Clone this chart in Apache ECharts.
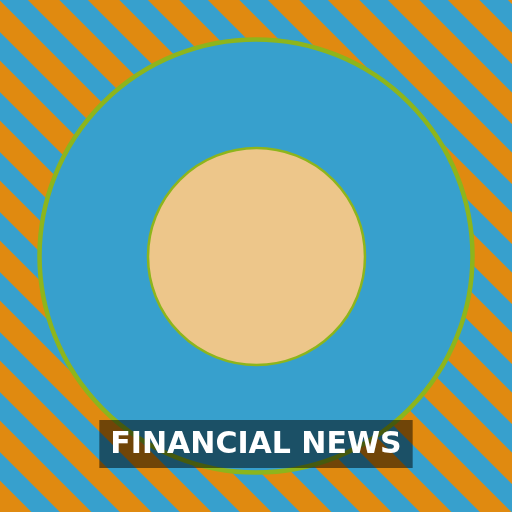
<!DOCTYPE html>
<html>
<head>
<meta charset="utf-8">
<script src="https://cdn.jsdelivr.net/npm/echarts@6/dist/echarts.min.js"></script>
<style>
	html, body { margin: 0; padding: 0; }
	#main { width: 512px; height: 512px; }
</style>
</head>
<body>
<div id="main"></div>
<script>
// 数据
var titleText = 'FINANCIAL NEWS'
var outerNames = ['outer']
var outerValues = [1]
var innerNames = ['inner']
var innerValues = [1]

// 颜色
var blue = [55, 160, 205]
var orange = [224, 138, 16]
var tan = '#edc68a'
var green = '#8db51c'

// 斜条纹背景 (逐像素, 4x4 超采样)
function stripePattern() {
	var size = 60
	var c = document.createElement('canvas')
	c.width = size
	c.height = size
	var ctx = c.getContext('2d')
	var img = ctx.createImageData(size, size)
	for (var y = 0; y < size; y++) {
		for (var x = 0; x < size; x++) {
			var hit = 0
			for (var sy = 0; sy < 4; sy++) {
				for (var sx = 0; sx < 4; sx++) {
					var d = (x + (sx + 0.5) / 4) - (y + (sy + 0.5) / 4)
					d = ((d % size) + size) % size
					if (d >= 28 && d < 59.5) hit++
				}
			}
			var t = hit / 16
			var i = (y * size + x) * 4
			img.data[i] = Math.round(blue[0] * (1 - t) + orange[0] * t)
			img.data[i + 1] = Math.round(blue[1] * (1 - t) + orange[1] * t)
			img.data[i + 2] = Math.round(blue[2] * (1 - t) + orange[2] * t)
			img.data[i + 3] = 255
		}
	}
	ctx.putImageData(img, 0, 0)
	return c
}

function toData(names, values) {
	return names.map(function (n, i) {
		return { name: n, value: values[i] }
	})
}

var myChart = echarts.init(document.getElementById('main'))
myChart.setOption({
	animation: false,
	backgroundColor: { image: stripePattern(), repeat: 'repeat' },
	title: {
		text: titleText,
		left: 'center',
		top: 420,
		padding: [10, 11, 8, 11],
		backgroundColor: 'rgba(0,0,0,0.5)',
		textStyle: {
			color: '#ffffff',
			fontFamily: 'DejaVu Sans',
			fontWeight: 'bold',
			fontSize: 30,
			lineHeight: 30
		}
	},
	series: [
		{
			type: 'pie',
			silent: true,
			center: [256, 256],
			radius: [0, 216.5],
			label: { show: false },
			labelLine: { show: false },
			itemStyle: { color: 'rgb(55,160,205)', borderColor: green, borderWidth: 4.5 },
			data: toData(outerNames, outerValues)
		},
		{
			type: 'pie',
			silent: true,
			center: [256.5, 256.5],
			radius: [0, 108.5],
			label: { show: false },
			labelLine: { show: false },
			itemStyle: { color: tan, borderColor: green, borderWidth: 2.5 },
			data: toData(innerNames, innerValues)
		}
	]
})
</script>
</body>
</html>
